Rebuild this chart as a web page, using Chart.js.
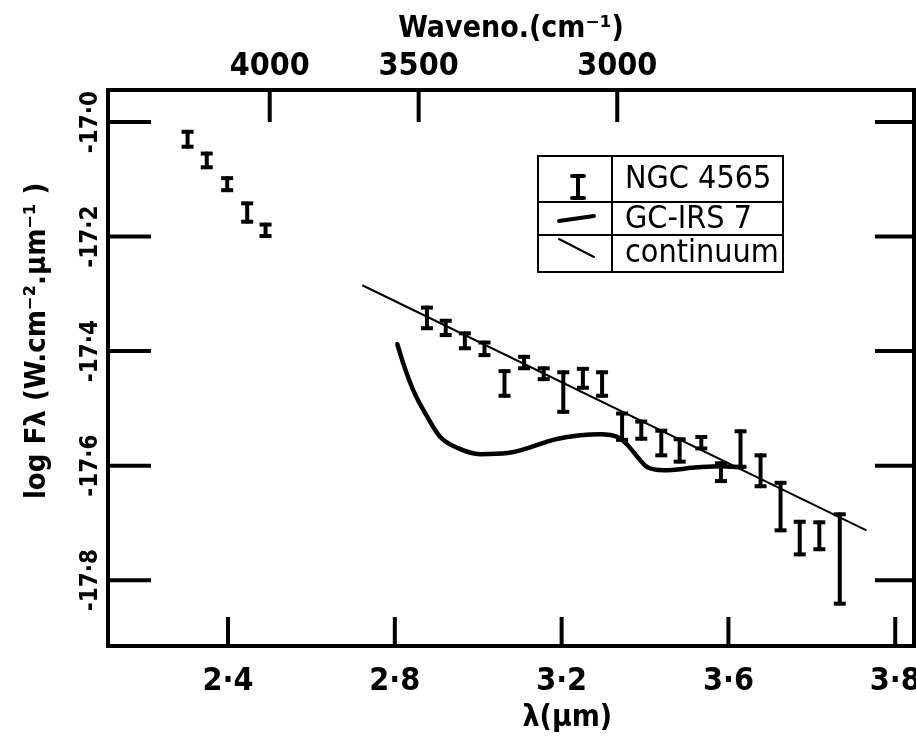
<!DOCTYPE html>
<html>
<head>
<meta charset="utf-8">
<script src="https://cdn.jsdelivr.net/npm/chart.js@4.4.1/dist/chart.umd.min.js"></script>
<style>
  html, body { margin: 0; padding: 0; background: #fff; }
  canvas { display: block; }
</style>
</head>
<body>
<canvas id="spec" width="916" height="738"></canvas>
<script>
// axis ticks (the last bottom tick is printed "3·8" in the original figure)
var xTickValues = [2.4, 2.8, 3.2, 3.6, 4.0];
var xTickLabels = ['2·4', '2·8', '3·2', '3·6', '3·8'];
var yTickValues = [-17.0, -17.2, -17.4, -17.6, -17.8];
var yTickLabels = ['-17·0', '-17·2', '-17·4', '-17·6', '-17·8'];
var topWavenos = [4000, 3500, 3000];

// NGC 4565 : wavelength (um) and error bar ends (log F)
var ngcLambda = [2.303, 2.349, 2.398, 2.446, 2.490, 2.877, 2.922, 2.968, 3.015, 3.063,
                 3.110, 3.157, 3.204, 3.251, 3.297, 3.345, 3.391, 3.439, 3.483, 3.535,
                 3.582, 3.629, 3.677, 3.725, 3.771, 3.818, 3.867];
var ngcHigh = [-17.017, -17.055, -17.098, -17.142, -17.179, -17.324, -17.347, -17.369, -17.385, -17.435,
               -17.410, -17.430, -17.437, -17.431, -17.437, -17.509, -17.523, -17.539, -17.554, -17.550,
               -17.596, -17.540, -17.582, -17.630, -17.698, -17.699, -17.685];
var ngcLow = [-17.043, -17.079, -17.119, -17.174, -17.199, -17.360, -17.372, -17.395, -17.407, -17.478,
              -17.430, -17.449, -17.506, -17.464, -17.478, -17.555, -17.553, -17.582, -17.593, -17.570,
              -17.627, -17.602, -17.636, -17.713, -17.755, -17.746, -17.841];

// GC-IRS 7 spectrum
var irsLambda = [2.806, 2.820, 2.844, 2.878, 2.909, 2.950, 3.005, 3.070, 3.125, 3.180,
                 3.245, 3.293, 3.334, 3.358, 3.382, 3.406, 3.444, 3.526, 3.581, 3.634];
var irsFlux = [-17.388, -17.421, -17.468, -17.515, -17.550, -17.569, -17.580, -17.578, -17.568, -17.555,
               -17.547, -17.545, -17.550, -17.564, -17.585, -17.603, -17.608, -17.603, -17.601, -17.603];

// continuum
var contLambda = [2.722, 3.931];
var contFlux = [-17.285, -17.713];

var FONT = "'DejaVu Sans Condensed', 'DejaVu Sans', sans-serif";

// error bars as short segments separated by gaps
var ngcData = [];
for (var i = 0; i < ngcLambda.length; i++) {
	ngcData.push({x: ngcLambda[i], y: ngcLow[i]});
	ngcData.push({x: ngcLambda[i], y: ngcHigh[i]});
	ngcData.push({x: ngcLambda[i], y: null});
}
var irsData = irsLambda.map(function(l, i) { return {x: l, y: irsFlux[i]}; });
var contData = contLambda.map(function(l, i) { return {x: l, y: contFlux[i]}; });

var framePlugin = {
	id: 'frame',
	afterDatasetsDraw: function(chart) {
		var ctx = chart.ctx, a = chart.chartArea, s = chart.scales;
		ctx.save();
		ctx.strokeStyle = '#000';
		ctx.lineWidth = 4;
		ctx.lineCap = 'butt';
		ctx.strokeRect(a.left, a.top, a.right - a.left, a.bottom - a.top);
		ctx.beginPath();
		s.y.ticks.forEach(function(t) {
			var py = s.y.getPixelForValue(t.value);
			ctx.moveTo(a.left, py); ctx.lineTo(a.left + 43, py);
			ctx.moveTo(a.right, py); ctx.lineTo(a.right - 39, py);
		});
		s.x.ticks.forEach(function(t) {
			var px = s.x.getPixelForValue(t.value);
			ctx.moveTo(px, a.bottom); ctx.lineTo(px, a.bottom - 29);
		});
		s.x2.ticks.forEach(function(t) {
			var px = s.x2.getPixelForValue(t.value);
			ctx.moveTo(px, a.top); ctx.lineTo(px, a.top + 32);
		});
		ctx.stroke();

		// boxed key
		var L = 538, R = 783, T = 156, B = 272, D = 612, r1 = 202, r2 = 235;
		ctx.fillStyle = '#fff';
		ctx.fillRect(L, T, R - L, B - T);
		ctx.lineWidth = 2;
		ctx.strokeRect(L, T, R - L, B - T);
		ctx.beginPath();
		ctx.moveTo(D, T); ctx.lineTo(D, B);
		ctx.moveTo(L, r1); ctx.lineTo(R, r1);
		ctx.moveTo(L, r2); ctx.lineTo(R, r2);
		ctx.stroke();
		ctx.lineCap = 'round';
		ctx.lineWidth = 4;
		ctx.beginPath();
		ctx.moveTo(578, 176); ctx.lineTo(578, 198);
		ctx.moveTo(572, 176); ctx.lineTo(584, 176);
		ctx.moveTo(572, 198); ctx.lineTo(584, 198);
		ctx.moveTo(559, 221); ctx.lineTo(594, 216);
		ctx.stroke();
		ctx.lineWidth = 2;
		ctx.beginPath();
		ctx.moveTo(559, 239); ctx.lineTo(594, 257);
		ctx.stroke();
		ctx.fillStyle = '#000';
		ctx.font = '32px ' + FONT;
		ctx.textBaseline = 'middle';
		ctx.textAlign = 'left';
		var ds = chart.data.datasets;
		ctx.fillText(ds[0].label, 625, (T + r1) / 2 + 1);
		ctx.fillText(ds[1].label, 625, (r1 + r2) / 2 + 1);
		ctx.fillText(ds[2].label, 625, (r2 + B) / 2);
		ctx.restore();
	}
};

function noPad(scale) {
	scale.paddingLeft = 0; scale.paddingRight = 0;
	scale.paddingTop = 0; scale.paddingBottom = 0;
}

var config = {
	type: 'scatter',
	data: {
		datasets: [{
			label: 'NGC 4565',
			data: ngcData,
			showLine: true,
			spanGaps: false,
			borderColor: '#000',
			backgroundColor: '#000',
			borderWidth: 4,
			borderCapStyle: 'round',
			pointStyle: 'line',
			pointRadius: 6,
			pointBorderWidth: 4,
			pointBorderColor: '#000'
		}, {
			label: 'GC-IRS 7',
			data: irsData,
			showLine: true,
			borderColor: '#000',
			borderWidth: 4.5,
			borderCapStyle: 'round',
			cubicInterpolationMode: 'monotone',
			pointRadius: 0
		}, {
			label: 'continuum',
			data: contData,
			showLine: true,
			borderColor: '#000',
			borderWidth: 2,
			pointRadius: 0
		}]
	},
	options: {
		responsive: false,
		animation: false,
		devicePixelRatio: 1,
		layout: { autoPadding: false, padding: { left: 0, right: 2, top: 0, bottom: 0 } },
		plugins: { legend: { display: false }, tooltip: { enabled: false } },
		scales: {
			x: {
				type: 'linear', position: 'bottom', min: 2.1122, max: 4.045,
				grid: { display: false }, border: { display: false },
				afterBuildTicks: function(s) { s.ticks = xTickValues.map(function(v) { return {value: v}; }); },
				ticks: {
					autoSkip: false, maxRotation: 0, padding: 8, color: '#000',
					font: { family: FONT, size: 32, weight: 'bold' },
					callback: function(v, i) { return xTickLabels[i]; }
				},
				title: {
					display: true, text: '            λ(μm)', color: '#000',
					font: { family: FONT, size: 30, weight: 'bold' },
					padding: { top: 0, bottom: 2 }
				},
				afterFit: function(s) { s.height = 92; noPad(s); }
			},
			x2: {
				type: 'linear', position: 'top', min: 2.1122, max: 4.045,
				grid: { display: false }, border: { display: false },
				afterBuildTicks: function(s) { s.ticks = topWavenos.map(function(w) { return {value: 1e4 / w}; }); },
				ticks: {
					autoSkip: false, maxRotation: 0, padding: -4, color: '#000',
					font: { family: FONT, size: 32, weight: 'bold' },
					callback: function(v, i) { return String(topWavenos[i]); }
				},
				title: {
					display: true, text: 'Waveno.(cm⁻¹)', color: '#000',
					font: { family: FONT, size: 30, weight: 'bold' },
					padding: { top: 11, bottom: 0 }
				},
				afterFit: function(s) { s.height = 90; noPad(s); }
			},
			y: {
				type: 'linear', position: 'left', min: -17.915, max: -16.944,
				grid: { display: false }, border: { display: false },
				afterBuildTicks: function(s) { s.ticks = yTickValues.map(function(v) { return {value: v}; }); },
				ticks: {
					autoSkip: false, minRotation: 90, maxRotation: 90, crossAlign: 'center',
					padding: -22, color: '#000',
					font: { family: FONT, size: 24, weight: 'bold' },
					callback: function(v, i) { return yTickLabels[i]; }
				},
				title: {
					display: true, text: '      log Fλ (W.cm⁻².μm⁻¹ )', color: '#000',
					font: { family: FONT, size: 29, weight: 'bold' },
					padding: { top: 20, bottom: 0 }
				},
				afterFit: function(s) { s.width = 108; noPad(s); }
			}
		}
	},
	plugins: [framePlugin]
};

window.onload = function() {
	window.specChart = new Chart(document.getElementById('spec'), config);
};
</script>
</body>
</html>
